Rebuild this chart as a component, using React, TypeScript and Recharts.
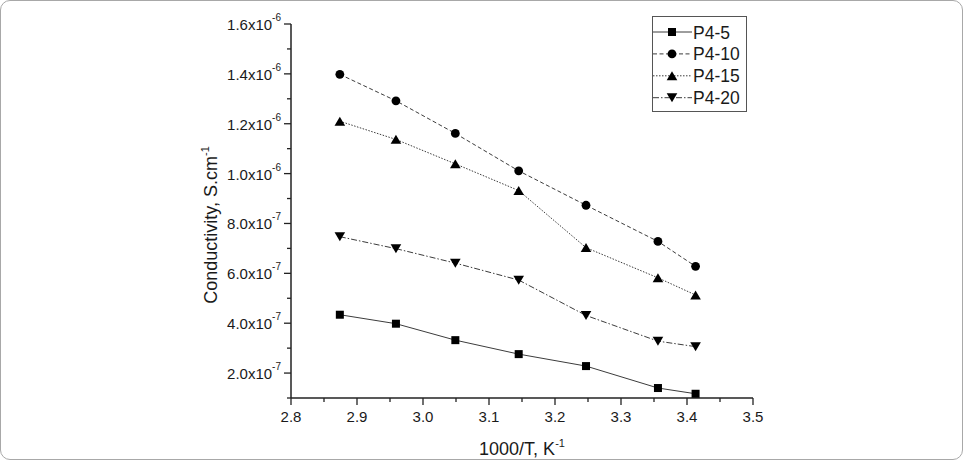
import React from 'react';
import { LineChart, Line, XAxis, YAxis, Legend, Label } from 'recharts';

// 1000/T values (K^-1) for the measured temperatures
const inverseTemp = [2.874, 2.959, 3.049, 3.145, 3.247, 3.356, 3.413];

// Conductivity, S/cm
const p4_5 = [4.34e-7, 3.98e-7, 3.32e-7, 2.76e-7, 2.28e-7, 1.4e-7, 1.17e-7];
const p4_10 = [1.398e-6, 1.292e-6, 1.161e-6, 1.011e-6, 8.73e-7, 7.28e-7, 6.28e-7];
const p4_15 = [1.21e-6, 1.137e-6, 1.039e-6, 9.32e-7, 7.03e-7, 5.82e-7, 5.13e-7];
const p4_20 = [7.47e-7, 6.99e-7, 6.41e-7, 5.73e-7, 4.31e-7, 3.28e-7, 3.06e-7];

const seriesNames = ['P4-5', 'P4-10', 'P4-15', 'P4-20'];

const xTickValues = [2.8, 2.85, 2.9, 2.95, 3.0, 3.05, 3.1, 3.15, 3.2, 3.25, 3.3, 3.35, 3.4, 3.45, 3.5];
const yTickValues = [
  1e-7, 2e-7, 3e-7, 4e-7, 5e-7, 6e-7, 7e-7, 8e-7, 9e-7,
  1.0e-6, 1.1e-6, 1.2e-6, 1.3e-6, 1.4e-6, 1.5e-6, 1.6e-6,
];

const data = inverseTemp.map((x, i) => ({
  x,
  s5: p4_5[i],
  s10: p4_10[i],
  s15: p4_15[i],
  s20: p4_20[i],
}));

const FONT = '"Liberation Sans", Arial, sans-serif';
const INK = '#222';
const LINE = '#3c3c3c';

type Shape = 'square' | 'circle' | 'up' | 'down';
const shapes: Record<string, Shape> = {
  'P4-5': 'square',
  'P4-10': 'circle',
  'P4-15': 'up',
  'P4-20': 'down',
};

function Marker({ shape, cx, cy }: { shape: Shape; cx: number; cy: number }) {
  if (cx == null || cy == null) return null;
  switch (shape) {
    case 'square':
      return <rect x={cx - 4} y={cy - 4} width={8} height={8} fill="#000" />;
    case 'circle':
      return <circle cx={cx} cy={cy} r={4.4} fill="#000" />;
    case 'up':
      return (
        <polygon
          points={`${cx},${cy - 4.6} ${cx + 5.3},${cy + 4.4} ${cx - 5.3},${cy + 4.4}`}
          fill="#000"
        />
      );
    default:
      return (
        <polygon
          points={`${cx - 5.3},${cy - 4.4} ${cx + 5.3},${cy - 4.4} ${cx},${cy + 4.6}`}
          fill="#000"
        />
      );
  }
}

const dotFor = (name: string) => (p: any) => (
  <Marker key={`${name}-${p.index}`} shape={shapes[name]} cx={p.cx} cy={p.cy} />
);

function XTick(props: any) {
  const { x, y, payload } = props;
  const v: number = payload.value;
  const major = Math.round(v * 100) % 10 === 0;
  const axisY = y - 7;
  return (
    <g>
      <line x1={x} x2={x} y1={axisY} y2={major ? axisY + 7 : axisY + 4} stroke={INK} strokeWidth={1.3} />
      {major && (
        <text x={x} y={axisY + 23.5} textAnchor="middle" fontSize={15} fontFamily={FONT} fill="#1a1a1a">
          {v.toFixed(1)}
        </text>
      )}
    </g>
  );
}

function YTick(props: any) {
  const { x, y, payload } = props;
  const v: number = payload.value;
  const k = Math.round(v * 1e7);
  const major = k % 2 === 0;
  const axisX = x + 7;
  let mant = '';
  let exp = '';
  if (k >= 10) {
    mant = (k / 10).toFixed(1);
    exp = '-6';
  } else {
    mant = k.toFixed(1);
    exp = '-7';
  }
  return (
    <g>
      <line x1={major ? axisX - 7 : axisX - 4} x2={axisX} y1={y} y2={y} stroke={INK} strokeWidth={1.3} />
      {major && (
        <text x={axisX - 10} y={y + 6} textAnchor="end" fontSize={15} fontFamily={FONT} fill="#1a1a1a">
          {mant}x10
          <tspan dy={-9} fontSize={10}>
            {exp}
          </tspan>
        </text>
      )}
    </g>
  );
}

function XTitle(props: any) {
  const vb = props.viewBox || { x: 291, y: 398, width: 462, height: 62 };
  return (
    <text
      x={vb.x + vb.width / 2}
      y={vb.y + 57}
      textAnchor="middle"
      fontSize={18}
      fontFamily={FONT}
      fill="#1a1a1a"
    >
      1000/T, K
      <tspan dy={-8} fontSize={11}>
        -1
      </tspan>
    </text>
  );
}

function YTitle(props: any) {
  const vb = props.viewBox || { x: 0, y: 24, width: 291, height: 374 };
  const cx = 216.5;
  const cy = vb.y + vb.height / 2 + 14;
  return (
    <text
      x={cx}
      y={cy}
      transform={`rotate(-90, ${cx}, ${cy})`}
      textAnchor="middle"
      fontSize={18}
      fontFamily={FONT}
      fill="#1a1a1a"
    >
      Conductivity, S.cm
      <tspan dy={-8} fontSize={11}>
        -1
      </tspan>
    </text>
  );
}

function LegendBox(props: any) {
  const payload: any[] = props.payload || [];
  const ordered = [...payload].sort(
    (a, b) => seriesNames.indexOf(String(a.value)) - seriesNames.indexOf(String(b.value))
  );
  const rowY = (i: number) => 16 + 21.9 * i;
  return (
    <svg width={96} height={97} style={{ display: 'block' }}>
      <rect x={0.5} y={0.5} width={94} height={95} fill="#fff" stroke="#555" strokeWidth={1} />
      {ordered.map((entry, i) => {
        const name = String(entry.value);
        const dash = entry.payload?.strokeDasharray;
        const y = rowY(i);
        return (
          <g key={name}>
            <line x1={1} x2={40} y1={y} y2={y} stroke={LINE} strokeWidth={1} strokeDasharray={dash} />
            <Marker shape={shapes[name]} cx={20} cy={y} />
            <text x={41} y={y + 6.5} fontSize={17.5} fontFamily={FONT} fill="#1a1a1a">
              {name}
            </text>
          </g>
        );
      })}
    </svg>
  );
}

export default function App() {
  return (
    <div
      style={{
        position: 'absolute',
        left: 0,
        top: 0,
        width: 963,
        height: 460,
        background: '#fff',
      }}
    >
      <div
        style={{
          position: 'absolute',
          left: 0,
          top: 0,
          width: 963,
          height: 460,
          boxSizing: 'border-box',
          border: '1px solid #a8a8a8',
          borderRadius: 10,
        }}
      />
      <div style={{ position: 'absolute', left: 0, top: 0 }}>
        <LineChart width={963} height={460} data={data} margin={{ top: 24, right: 210, bottom: 0, left: 0 }}>
          <XAxis
            type="number"
            dataKey="x"
            domain={[2.8, 3.5]}
            ticks={xTickValues}
            interval={0}
            tickSize={7}
            tickMargin={0}
            tickLine={false}
            tick={<XTick />}
            axisLine={{ stroke: INK, strokeWidth: 1.5 }}
            height={62}
          >
            <Label content={<XTitle />} />
          </XAxis>
          <YAxis
            type="number"
            domain={[1e-7, 1.6e-6]}
            ticks={yTickValues}
            interval={0}
            tickSize={7}
            tickMargin={0}
            tickLine={false}
            tick={<YTick />}
            axisLine={{ stroke: INK, strokeWidth: 1.5 }}
            width={291}
          >
            <Label content={<YTitle />} />
          </YAxis>
          <Legend
            layout="vertical"
            align="center"
            verticalAlign="middle"
            itemSorter={(item: any) => seriesNames.indexOf(String(item.value))}
            wrapperStyle={{ left: 652, top: 16, width: 96, height: 97 }}
            content={<LegendBox />}
          />
          <Line
            name={seriesNames[0]}
            dataKey="s5"
            type="linear"
            stroke={LINE}
            strokeWidth={1}
            dot={dotFor(seriesNames[0])}
            activeDot={false}
            isAnimationActive={false}
          />
          <Line
            name={seriesNames[1]}
            dataKey="s10"
            type="linear"
            stroke={LINE}
            strokeWidth={1}
            strokeDasharray="4 2.5"
            dot={dotFor(seriesNames[1])}
            activeDot={false}
            isAnimationActive={false}
          />
          <Line
            name={seriesNames[2]}
            dataKey="s15"
            type="linear"
            stroke={LINE}
            strokeWidth={1}
            strokeDasharray="1.5 1.5"
            dot={dotFor(seriesNames[2])}
            activeDot={false}
            isAnimationActive={false}
          />
          <Line
            name={seriesNames[3]}
            dataKey="s20"
            type="linear"
            stroke={LINE}
            strokeWidth={1}
            strokeDasharray="6 2 1.5 2"
            dot={dotFor(seriesNames[3])}
            activeDot={false}
            isAnimationActive={false}
          />
        </LineChart>
      </div>
    </div>
  );
}
